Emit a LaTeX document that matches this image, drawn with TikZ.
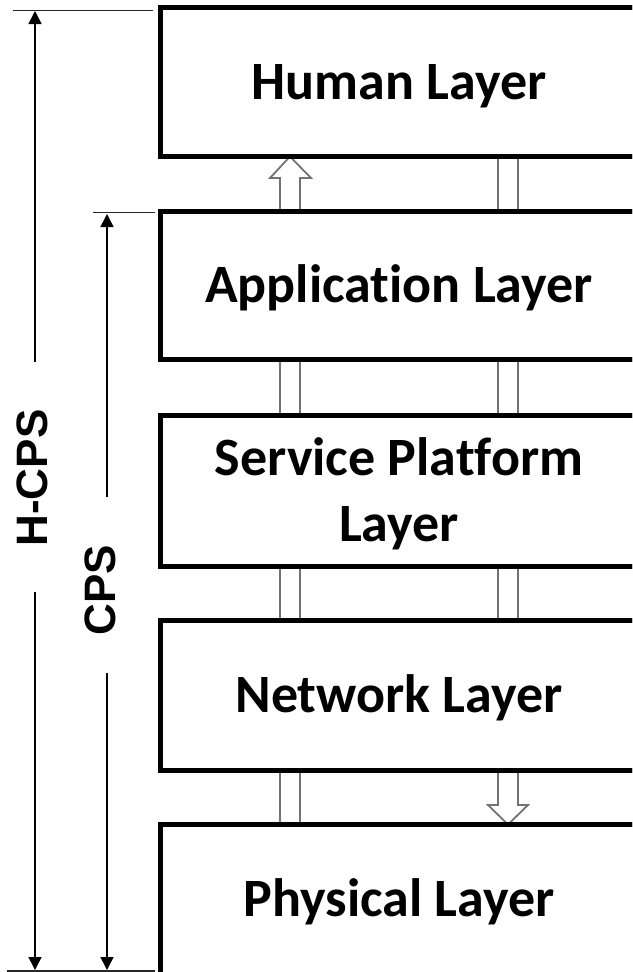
\documentclass[tikz,border=0pt]{standalone}
\usepackage{fontspec}
\newfontfamily\carlito[Ligatures={NoCommon}]{Carlito}
\newfontfamily\arialfont{Liberation Sans}
\usetikzlibrary{arrows.meta}
\begin{document}
\begin{tikzpicture}[x=1pt,y=-1pt,
  layer/.style={draw=black, line width=5pt, anchor=north west, minimum width=477pt,
    inner sep=0pt, outer sep=0pt, align=center,
    font=\carlito\bfseries\fontsize{54}{66}\selectfont,
    text height=34.6pt, text depth=0pt},
  rail/.style={draw=black!55, line width=1.8pt},
  openarrow/.style={draw=black!55, line width=1.8pt, line join=miter},
  dimline/.style={draw=black, line width=1.5pt, -{Triangle[length=13pt,width=13pt]}},
  tickline/.style={draw=black!85, line width=1.2pt},
  dimlabel/.style={rotate=90, inner sep=0pt, outer sep=0pt,
    font=\arialfont\bfseries\fontsize{44}{50}\selectfont,
    text height=31.5pt, text depth=0pt}]
\useasboundingbox (0,0) rectangle (632,972);
\clip (0,0) rectangle (632,972);

% rail columns
\coordinate (lx1) at (280,0);
\coordinate (lx2) at (300,0);
\coordinate (rx1) at (498,0);
\coordinate (rx2) at (518,0);

% layer boxes
\node[layer, minimum height=149pt] (human) at (160.5,7.5) {Human Layer};
\node[layer, minimum height=148pt] (app) at (160.5,211.5) {Application Layer};
\node[layer, minimum height=151pt, text height=100.6pt, text depth=0pt] (svc) at (160.5,415.5) {Service Platform\\Layer};
\node[layer, minimum height=150pt] (net) at (160.5,620.5) {Network Layer};
\node[layer, minimum height=150pt] (phys) at (160.5,824.5) {Physical Layer};

% gap human - app: open up arrow (left), rails (right)
\draw[openarrow] (lx1 |- app.north) -- (280,178) -- (270,178) -- (290,156.5)
  -- (311,178) -- (300,178) -- (lx2 |- app.north);
\draw[rail] (rx1 |- human.south) -- (rx1 |- app.north);
\draw[rail] (rx2 |- human.south) -- (rx2 |- app.north);

% gap app - svc
\draw[rail] (lx1 |- app.south) -- (lx1 |- svc.north);
\draw[rail] (lx2 |- app.south) -- (lx2 |- svc.north);
\draw[rail] (rx1 |- app.south) -- (rx1 |- svc.north);
\draw[rail] (rx2 |- app.south) -- (rx2 |- svc.north);

% gap svc - net
\draw[rail] (lx1 |- svc.south) -- (lx1 |- net.north);
\draw[rail] (lx2 |- svc.south) -- (lx2 |- net.north);
\draw[rail] (rx1 |- svc.south) -- (rx1 |- net.north);
\draw[rail] (rx2 |- svc.south) -- (rx2 |- net.north);

% gap net - phys: rails (left), open down arrow (right)
\draw[rail] (lx1 |- net.south) -- (lx1 |- phys.north);
\draw[rail] (lx2 |- net.south) -- (lx2 |- phys.north);
\draw[openarrow] (rx1 |- net.south) -- (498,805) -- (488,805) -- (508,824.5)
  -- (528,805) -- (518,805) -- (rx2 |- net.south);

% redraw box borders on top
\foreach \b in {human,app,svc,net,phys}
  \draw[black, line width=5pt] (\b.north east) -- (\b.north west) -- (\b.south west) -- (\b.south east);

% dimension labels
\node[dimlabel] (hcps) at (31.5,478) {H-CPS};
\node[dimlabel] (cps) at (100,590) {CPS};

% H-CPS dimension
\coordinate (hTop) at (35,11);
\coordinate (hBot) at (35,970);
\coordinate (hA) at (35,362);
\coordinate (hB) at (35,592);
\draw[dimline] (hA) -- (hTop);
\draw[dimline] (hB) -- (hBot);

% CPS dimension
\coordinate (cTop) at (107,214);
\coordinate (cBot) at (107,970);
\coordinate (cA) at (107,497);
\coordinate (cB) at (107,673);
\draw[dimline] (cA) -- (cTop);
\draw[dimline] (cB) -- (cBot);

% extension ticks
\coordinate (t1a) at (13,10.5);
\coordinate (t1b) at (153,10.5);
\coordinate (t2a) at (93,212.5);
\coordinate (t2b) at (155,212.5);
\coordinate (t3a) at (7,971);
\coordinate (t3b) at (155,971);
\draw[tickline] (t1a) -- (t1b);
\draw[tickline] (t2a) -- (t2b);
\draw[tickline] (t3a) -- (t3b);
\end{tikzpicture}
\end{document}
